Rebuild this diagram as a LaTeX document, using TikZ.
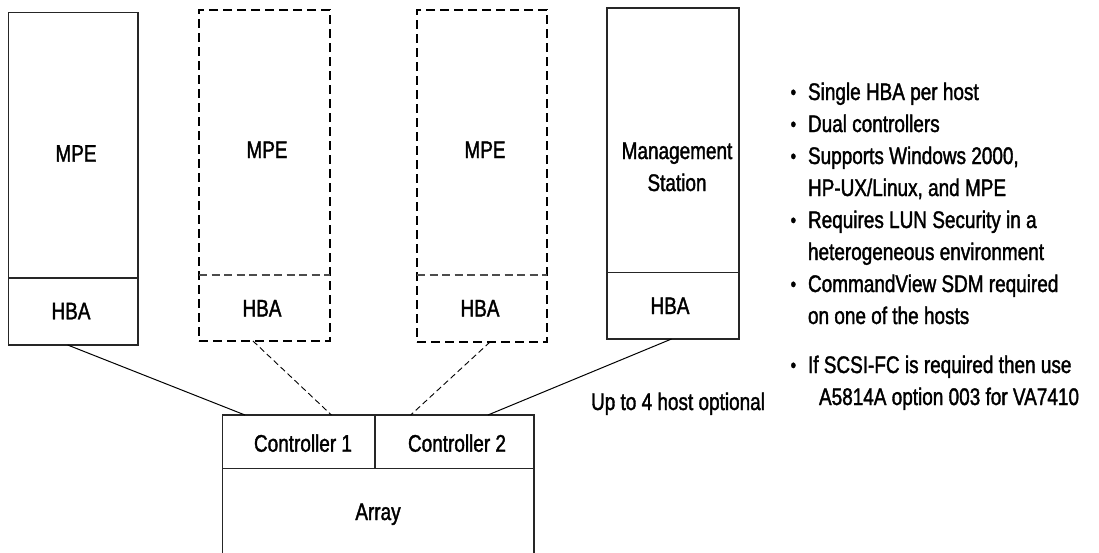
\documentclass[tikz,border=0pt]{standalone}
\usepackage{fontspec}
\setmainfont{Liberation Sans}[FakeStretch=0.79, FakeBold=1.5]
\usetikzlibrary{calc}
\tikzset{
  every node/.style={font=\fontsize{24}{32}\selectfont, inner sep=0pt, outer sep=0pt},
  solidbox/.style={draw=black!85, line width=1.2pt, anchor=north west, inner sep=0pt, outer sep=0pt},
  dashbox/.style={draw=black, line width=1.8pt, dash pattern=on 9pt off 5pt, anchor=north west, inner sep=0pt, outer sep=0pt},
  soliddiv/.style={draw=black!85, line width=1.2pt},
  dashdiv/.style={draw=black!70, line width=1.2pt, dash pattern=on 8pt off 4.5pt},
  solidlink/.style={draw=black, line width=1pt},
  dashlink/.style={draw=black, line width=0.9pt, dash pattern=on 6pt off 3.5pt},
  lbl/.style={anchor=base},
  note/.style={anchor=base west},
}
\newcommand{\bulletmark}{\makebox[17.4pt][l]{\fontsize{20}{20}\selectfont\raisebox{1pt}{•}}}
\begin{document}
\begin{tikzpicture}[x=1pt,y=-1pt]
\useasboundingbox (0,0) rectangle (1099,552);
\fill[white] (0,0) rectangle (1099,552);
\clip (0,0) rectangle (1099,552);

% hosts
\node[solidbox, minimum width=129.5pt, minimum height=332.5pt] (h1) at (8.5,12.5) {};
\node[dashbox,  minimum width=131pt,   minimum height=331pt]   (h2) at (199,10) {};
\node[dashbox,  minimum width=130pt,   minimum height=332pt]   (h3) at (417,10) {};
\node[solidbox, minimum width=132pt,   minimum height=331pt]   (h4) at (607,8) {};

\draw[soliddiv] (h1.west |- 0,278) -- (h1.east |- 0,278);
\draw[dashdiv]  (h2.west |- 0,275) -- (h2.east |- 0,275);
\draw[dashdiv]  (h3.west |- 0,275) -- (h3.east |- 0,275);
\draw[soliddiv] (h4.west |- 0,272.7) -- (h4.east |- 0,272.7);

\node[lbl] (mpe1) at (76,161.7) {MPE};
\node[lbl] (mpe2) at (267,158) {MPE};
\node[lbl] (mpe3) at (485,158) {MPE};
\node[lbl] (mgmt) at (677,159) {Management};
\node[lbl] (stat) at (677,191) {Station};
\node[lbl] (hba1) at (71,319.3) {HBA};
\node[lbl] (hba2) at (262,316.5) {HBA};
\node[lbl] (hba3) at (480,316.5) {HBA};
\node[lbl] (hba4) at (670,314) {HBA};

% array
\node[solidbox, minimum width=311.3pt, minimum height=160pt] (arr) at (222.7,415) {};
\draw[soliddiv] (arr.west |- 0,468.7) -- (arr.east |- 0,468.7);
\draw[soliddiv] (arr.north -| 375,0) -- (375,468.7);
\node[lbl] (c1) at (303,451.7) {Controller 1};
\node[lbl] (c2) at (457,451.7) {Controller 2};
\node[lbl] (array) at (378,520) {Array};

% connectors
\draw[solidlink] ($(h1.south west)!0.457!(h1.south east)$) -- ($(arr.north west)!0.0716!(arr.north east)$);
\draw[dashlink]  ($(h2.south west)!0.412!(h2.south east)$) -- ($(arr.north west)!0.3493!(arr.north east)$);
\draw[dashlink]  ($(h3.south west)!0.5615!(h3.south east)$) -- ($(arr.north west)!0.6039!(arr.north east)$);
\draw[solidlink] ($(h4.south west)!0.4886!(h4.south east)$) -- ($(arr.north west)!0.852!(arr.north east)$);

\node[lbl] (opt) at (678,410) {Up to 4 host optional};

% notes
\node[note] (n1) at (790.6,100) {\bulletmark Single HBA per host};
\node[note] (n2) at (790.6,132) {\bulletmark Dual controllers};
\node[note] (n3) at (790.6,164) {\bulletmark Supports Windows 2000,};
\node[note] (n3b) at (808,196) {HP-UX/Linux, and MPE};
\node[note] (n4) at (790.6,228) {\bulletmark Requires LUN Security in a};
\node[note] (n4b) at (808,260) {heterogeneous environment};
\node[note] (n5) at (790.6,292) {\bulletmark CommandView SDM required};
\node[note] (n5b) at (808,324) {on one of the hosts};
\node[note] (n6) at (790.6,373) {\bulletmark If SCSI-FC is required then use};
\node[note] (n6b) at (819,405) {A5814A option 003 for VA7410};
\end{tikzpicture}
\end{document}
